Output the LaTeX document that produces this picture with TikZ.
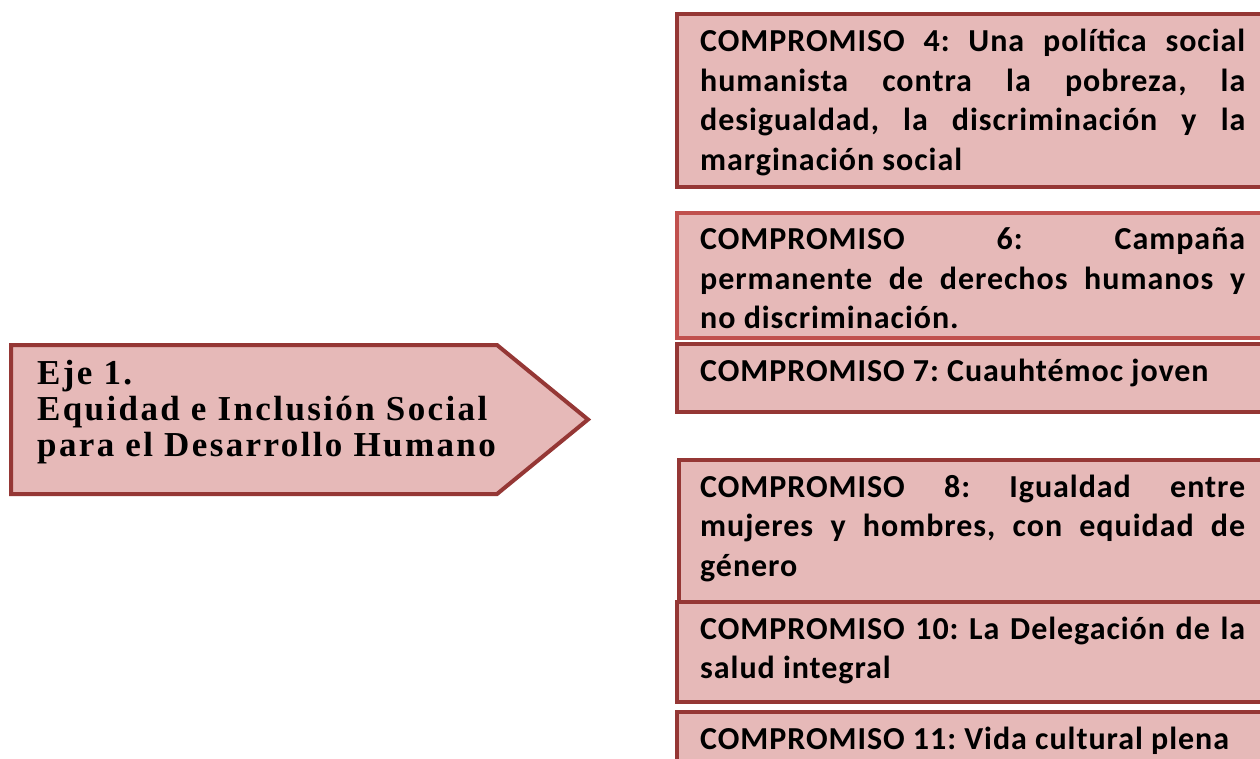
\documentclass[tikz,border=0pt]{standalone}
\usepackage{fontspec}
\newfontfamily\cbf[LetterSpace=3]{Carlito}
\newfontfamily\tnr[LetterSpace=6.8]{Liberation Serif}
\definecolor{boxfill}{HTML}{E6B9B8}
\definecolor{boxline}{HTML}{953735}
\definecolor{boxlinelight}{HTML}{C0504D}
\newcommand{\ctxt}[1]{\parbox[t]{545pt}{\frenchspacing #1}}
\begin{document}
\begin{tikzpicture}[x=1pt,y=1pt,
  cbox/.style={draw=boxline, fill=boxfill, line width=4pt, rectangle, inner sep=0pt, anchor=north west, minimum width=640pt},
  ctext/.style={anchor=base west, inner sep=0pt, font=\cbf\bfseries\fontsize{32}{39.5}\selectfont},
  ejetext/.style={anchor=base west, inner sep=0pt, font=\tnr\bfseries\fontsize{35}{36}\selectfont},
]
\useasboundingbox (0,0) rectangle (1260,-759);
\clip (0,0) rectangle (1260,-759);
\fill[white] (0,0) rectangle (1260,-759);

% left pentagon
\draw[draw=boxline, fill=boxfill, line width=4pt, line join=miter]
  (11,-345) -- (497,-345) -- (588,-419.5) -- (497,-494) -- (11,-494) -- cycle;
\node[ejetext] (eje) at (37,-384) {\parbox[t]{540pt}{\raggedright\frenchspacing Eje 1.\\Equidad e Inclusión Social\\para el Desarrollo Humano}};

% compromiso boxes
\node[cbox, minimum height=173pt] (c4) at (675,-12) {};
\node[cbox, minimum height=125pt, draw=boxlinelight] (c6) at (675,-211) {};
\node[cbox, minimum height=68pt] (c7) at (675,-342) {};
\node[cbox, minimum height=142pt] (c8) at (677,-458) {};
\node[cbox, minimum height=100pt] (c10) at (675,-600) {};
\node[cbox, minimum height=90pt] (c11) at (675,-710) {};

\node[ctext] (t4) at (700,-52) {\ctxt{COMPROMISO 4: Una política social\linebreak humanista contra la pobreza, la\linebreak desigualdad, la discriminación y la\linebreak marginación social}};
\node[ctext] (t6) at (700,-250) {\ctxt{COMPROMISO 6: Campaña\linebreak permanente de derechos humanos y\linebreak no discriminación.}};
\node[ctext] (t7) at (700,-381) {\ctxt{COMPROMISO 7: Cuauhtémoc joven}};
\node[ctext] (t8) at (700,-497) {\ctxt{COMPROMISO 8: Igualdad entre\linebreak mujeres y hombres, con equidad de\linebreak género}};
\node[ctext] (t10) at (700,-639) {\ctxt{COMPROMISO 10: La Delegación de la\linebreak salud integral}};
\node[ctext] (t11) at (700,-749) {\ctxt{COMPROMISO 11: Vida cultural plena}};
\end{tikzpicture}
\end{document}
